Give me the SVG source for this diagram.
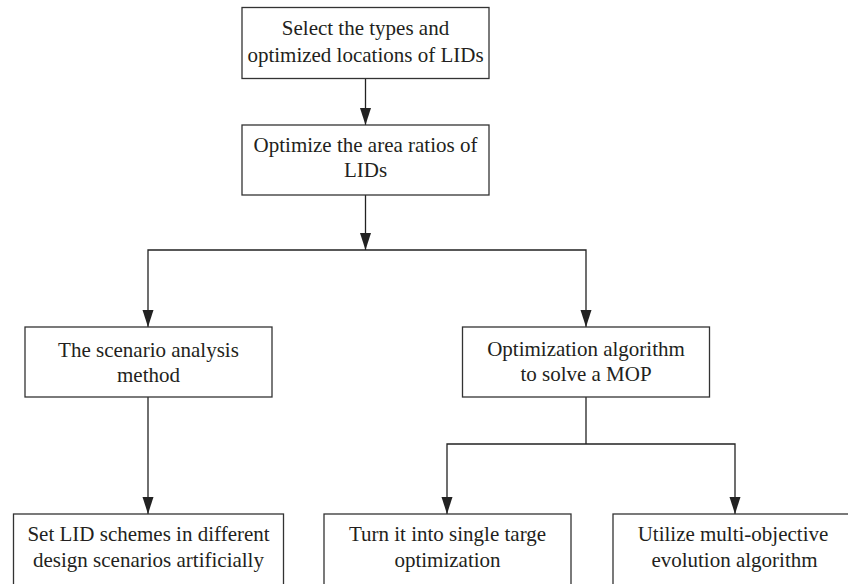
<svg xmlns="http://www.w3.org/2000/svg" width="848" height="584" viewBox="0 0 848 584">
<style>
.box{fill:#fff;stroke:#333;stroke-width:1.3}
.c{fill:none;stroke:#222;stroke-width:1.3}
text{font-family:'Liberation Serif','DejaVu Serif',serif;font-size:21px;fill:#231f20;text-anchor:middle}
</style>
<rect width="848" height="584" fill="#fff"/>
<g id="connectors">
<line class="c" x1="365.5" y1="78" x2="365.5" y2="125"/>
<line class="c" x1="365.5" y1="195" x2="365.5" y2="250"/>
<path class="c" d="M148,327 V250 H586 V327"/>
<line class="c" x1="148" y1="397" x2="148" y2="514"/>
<line class="c" x1="586" y1="397" x2="586" y2="444"/>
<path class="c" d="M447,514 V444 H735 V514"/>
<g fill="#222">
<path d="M360,108 L371,108 L365.5,125 Z"/>
<path d="M360,233 L371,233 L365.5,250 Z"/>
<path d="M142.5,310 L153.5,310 L148,327 Z"/>
<path d="M580.5,310 L591.5,310 L586,327 Z"/>
<path d="M142.5,497 L153.5,497 L148,514 Z"/>
<path d="M441.5,497 L452.5,497 L447,514 Z"/>
<path d="M729.5,497 L740.5,497 L735,514 Z"/>
</g>
</g>
<g font-family="Liberation Serif, DejaVu Serif, serif">
<g id="n1">
<rect class="box" x="242" y="7.5" width="247" height="71"/>
<text x="365.5" y="35">Select the types and</text>
<text x="365.5" y="61.5">optimized locations of LIDs</text>
</g>
<g id="n2">
<rect class="box" x="242" y="125" width="247" height="70"/>
<text x="365.5" y="152">Optimize the area ratios of</text>
<text x="365.5" y="177">LIDs</text>
</g>
<g id="n3">
<rect class="box" x="25" y="327" width="247" height="70"/>
<text x="148.5" y="356.5">The scenario analysis</text>
<text x="148.5" y="381.5">method</text>
</g>
<g id="n4">
<rect class="box" x="462.5" y="327" width="247" height="70"/>
<text x="586" y="355.5">Optimization algorithm</text>
<text x="586" y="381">to solve a MOP</text>
</g>
<g id="n5">
<rect class="box" x="13.5" y="514" width="270" height="80"/>
<text x="148.5" y="540.5">Set LID schemes in different</text>
<text x="148.5" y="566.5">design scenarios artificially</text>
</g>
<g id="n6">
<rect class="box" x="324" y="514" width="247" height="80"/>
<text x="447.5" y="540.5">Turn it into single targe</text>
<text x="447.5" y="566.5">optimization</text>
</g>
<g id="n7">
<rect class="box" x="613" y="514" width="250" height="80"/>
<text x="733" y="540.5">Utilize multi-objective</text>
<text x="734.5" y="566.5">evolution algorithm</text>
</g>
</g>
</svg>
